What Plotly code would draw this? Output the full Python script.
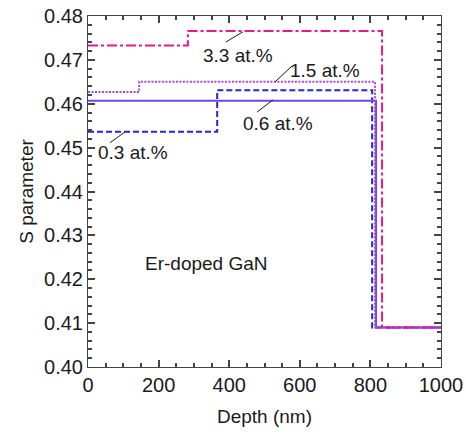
import plotly.graph_objects as go

# Step profiles: depth breakpoints (nm) and S values (hv steps)
depth_33 = [0, 283, 833, 1000]
s_33 = [0.4733, 0.4766, 0.4090, 0.4090]
depth_15 = [0, 145, 813, 1000]
s_15 = [0.4627, 0.4650, 0.4090, 0.4090]
depth_06 = [0, 816, 1000]
s_06 = [0.4607, 0.4090, 0.4090]
depth_03 = [0, 366, 805, 1000]
s_03 = [0.4536, 0.4631, 0.4090, 0.4090]

labels = ["3.3 at.%", "1.5 at.%", "0.6 at.%", "0.3 at.%"]

FONT = "Liberation Sans, Arial, sans-serif"
TXT = "#1a1a1a"
AX = "#444444"

fig = go.Figure()
fig.add_trace(go.Scatter(x=depth_03, y=s_03, mode="lines", line_shape="hv",
                         line=dict(color="#2424D8", width=2, dash="6px,3px"), name=labels[3]))
fig.add_trace(go.Scatter(x=depth_06, y=s_06, mode="lines", line_shape="hv",
                         line=dict(color="#7344E6", width=2), name=labels[2]))
fig.add_trace(go.Scatter(x=depth_15, y=s_15, mode="lines", line_shape="hv",
                         line=dict(color="#A445E6", width=2, dash="2px,1.5px"), name=labels[1]))
fig.add_trace(go.Scatter(x=depth_33, y=s_33, mode="lines", line_shape="hv",
                         line=dict(color="#E8198E", width=2, dash="10px,3px,3px,3px"), name=labels[0]))

# text labels with leader lines
label_pos = [(425, 0.4711), (671, 0.4675), (538, 0.4554), (127, 0.4488)]
leaders = [((391, 0.4741), (439, 0.4764)),
           ((530, 0.4650), (578, 0.4686)),
           ((479, 0.4581), (524, 0.4609)),
           ((62, 0.4511), (105, 0.4536))]
for lab, (lx, ly), ((x0, y0), (x1, y1)) in zip(labels, label_pos, leaders):
    fig.add_annotation(x=lx, y=ly, text=lab, showarrow=False,
                       font=dict(size=19, color=TXT, family=FONT))
    fig.add_shape(type="line", x0=x0, y0=y0, x1=x1, y1=y1,
                  line=dict(color=TXT, width=1))

fig.add_annotation(x=156, y=0.4235, text="Er-doped GaN", showarrow=False, xanchor="left",
                   font=dict(size=19, color=TXT, family=FONT))

tick_font = dict(size=20, color=TXT, family=FONT)
title_font = dict(size=19, color=TXT, family=FONT)

fig.update_xaxes(range=[0, 1000], tickmode="linear", tick0=0, dtick=200,
                 ticks="inside", ticklen=7, tickwidth=1.5, tickcolor=AX,
                 mirror="allticks", showline=True, linecolor=AX, linewidth=1,
                 showgrid=False, zeroline=False, automargin=False, tickfont=tick_font,
                 minor=dict(dtick=50, ticks="inside", ticklen=4, tickwidth=1.5,
                            tickcolor=AX, showgrid=False),
                 title=dict(text="Depth (nm)", font=title_font, standoff=14))
fig.update_yaxes(range=[0.40, 0.48], tickmode="linear", tick0=0.40, dtick=0.01,
                 tickformat=".2f",
                 ticks="inside", ticklen=7, tickwidth=1.5, tickcolor=AX,
                 mirror="allticks", showline=True, linecolor=AX, linewidth=1,
                 showgrid=False, zeroline=False, automargin=False, tickfont=tick_font,
                 minor=dict(dtick=0.002, ticks="inside", ticklen=4, tickwidth=1.5,
                            tickcolor=AX, showgrid=False),
                 title=dict(text="S parameter", font=title_font, standoff=5))

fig.update_layout(width=466, height=436, showlegend=False,
                  margin=dict(l=88, r=25, t=16, b=69),
                  plot_bgcolor="white", paper_bgcolor="white")

fig.write_html("out.html", config={"displayModeBar": False},
               post_script="document.body.style.margin='0px';")
